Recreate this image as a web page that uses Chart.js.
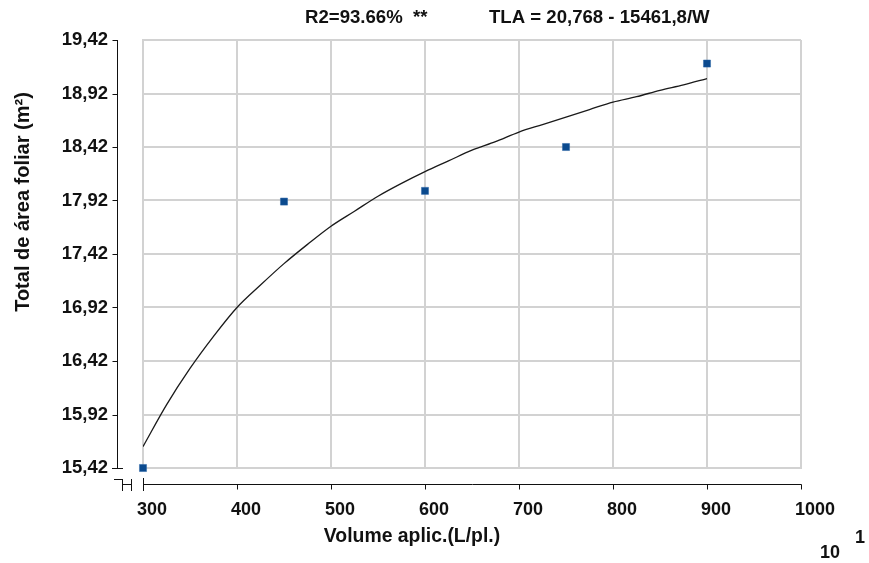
<!DOCTYPE html>
<html>
<head>
<meta charset="utf-8">
<script src="https://cdn.jsdelivr.net/npm/chart.js@4"></script>
<style>
  html, body { margin: 0; padding: 0; background: #fff; }
</style>
</head>
<body>
<canvas id="myChart" width="869" height="563"></canvas>
<script>
// observed points
const volumes = [300, 450, 600, 750, 900];
const leafArea = [15.42, 17.91, 18.01, 18.42, 19.20];

// fitted curve
const curveX = [300, 325, 350, 375, 400, 425, 450, 475, 500, 525, 550, 575, 600,
                625, 650, 675, 700, 725, 750, 775, 800, 825, 850, 875, 900];
const curveY = [15.62, 16.01, 16.35, 16.65, 16.92, 17.13, 17.33, 17.51, 17.68, 17.82, 17.96, 18.08, 18.19,
                18.29, 18.39, 18.47, 18.56, 18.63, 18.70, 18.77, 18.84, 18.89, 18.95, 19.00, 19.06];

const xTicks = [300, 400, 500, 600, 700, 800, 900, 1000];
const yTicks = [15.42, 15.92, 16.42, 16.92, 17.42, 17.92, 18.42, 18.92, 19.42];

const r2Text = 'R2=93.66%  **';
const eqText = 'TLA = 20,768 - 15461,8/W';
const xTitle = 'Volume aplic.(L/pl.)';
const yTitle = 'Total de área foliar (m²)';

const FONT = '"Liberation Sans", Arial, sans-serif';
const gridColor = '#d2d2d2';
const inkColor = '#111';

const myChart = document.getElementById('myChart');

// axes drawn offset from the plot box, plus the texts
const decorations = {
  id: 'decorations',
  afterDraw(chart) {
    const ctx = chart.ctx;
    const xs = chart.scales.x, ys = chart.scales.y;
    const ax = 117.5, ay = 484.5;
    const top = ys.getPixelForValue(yTicks[yTicks.length - 1]);
    const bot = ys.getPixelForValue(yTicks[0]);
    const left = xs.getPixelForValue(xTicks[0]);
    const right = xs.getPixelForValue(xTicks[xTicks.length - 1]);

    ctx.save();
    ctx.strokeStyle = inkColor;
    ctx.lineWidth = 1;
    const seg = (x1, y1, x2, y2) => { ctx.beginPath(); ctx.moveTo(x1, y1); ctx.lineTo(x2, y2); ctx.stroke(); };

    // y axis
    seg(ax, top, ax, bot);
    yTicks.forEach(v => {
      const py = Math.round(ys.getPixelForValue(v)) + 0.5;
      seg(ax - 5, py, ax, py);
    });
    seg(112, Math.round(bot) + 0.5, 123, Math.round(bot) + 0.5);

    // break marks
    seg(114, 479.5, 122.5, 479.5);
    seg(122.5, 479, 122.5, 491);
    seg(122.5, ay, 131.5, ay);
    seg(131.5, 479, 131.5, 491);

    // x axis
    const lx = Math.round(left) + 0.5;
    seg(lx, 478, lx, 491);
    seg(lx, ay, Math.round(right) + 0.5, ay);
    xTicks.forEach(v => {
      const px = Math.round(xs.getPixelForValue(v)) + 0.5;
      seg(px, ay, px, ay + 5);
    });

    // texts
    ctx.fillStyle = inkColor;
    ctx.font = 'bold 18.6px ' + FONT;
    ctx.textBaseline = 'middle';
    ctx.textAlign = 'left';
    ctx.fillText(r2Text, 305, 18);
    ctx.fillText(eqText, 489, 18);

    ctx.font = 'bold 19.4px ' + FONT;
    ctx.textAlign = 'center';
    ctx.fillText(xTitle, 412, 537);

    ctx.font = 'bold 18px ' + FONT;
    ctx.textAlign = 'left';
    ctx.fillText('10', 820, 553);
    ctx.fillText('1', 855, 538);

    ctx.font = 'bold 20px ' + FONT;
    ctx.translate(23, 202);
    ctx.rotate(-Math.PI / 2);
    ctx.textAlign = 'center';
    ctx.fillText(yTitle, 0, 0);
    ctx.restore();
  }
};

const data = {
  datasets: [{
    label: 'curve',
    data: curveX.map((x, i) => ({x: x, y: curveY[i]})),
    showLine: true,
    borderColor: '#1a1a1a',
    borderWidth: 1.3,
    pointRadius: 0,
    cubicInterpolationMode: 'monotone',
    fill: false
  }, {
    label: 'observed',
    data: volumes.map((x, i) => ({x: x, y: leafArea[i]})),
    showLine: false,
    pointStyle: 'rect',
    pointRadius: 5,
    pointBackgroundColor: '#0b4a8e',
    pointBorderColor: '#2a64a6',
    pointBorderWidth: 0.5,
    clip: false
  }]
};

const config = {
  type: 'scatter',
  data: data,
  options: {
    responsive: false,
    animation: false,
    devicePixelRatio: 1,
    layout: { padding: { left: 0, top: 40, right: 68, bottom: 0 } },
    plugins: { legend: { display: false }, tooltip: { enabled: false }, title: { display: false } },
    scales: {
      x: {
        type: 'linear',
        min: 300,
        max: 1000,
        afterBuildTicks: s => { s.ticks = xTicks.map(v => ({value: v})); },
        afterFit: s => { s.height = 95; s.paddingLeft = 0; s.paddingRight = 0; },
        ticks: {
          color: inkColor,
          font: { family: FONT, size: 18, weight: 'bold' },
          align: 'start',
          labelOffset: -6,
          padding: 31,
          maxRotation: 0,
          autoSkip: false,
          callback: v => String(v)
        },
        grid: { color: gridColor, lineWidth: 2, drawTicks: false },
        border: { display: true, color: gridColor, width: 2 }
      },
      y: {
        type: 'linear',
        min: 15.42,
        max: 19.42,
        afterBuildTicks: s => { s.ticks = yTicks.map(v => ({value: v})); },
        afterFit: s => { s.width = 143; s.paddingTop = 0; s.paddingBottom = 0; },
        ticks: {
          color: inkColor,
          font: { family: FONT, size: 18.5, weight: 'bold' },
          padding: 35,
          autoSkip: false,
          callback: v => v.toFixed(2).replace('.', ',')
        },
        grid: { color: gridColor, lineWidth: 2, drawTicks: false },
        border: { display: true, color: gridColor, width: 2 }
      }
    }
  },
  plugins: [decorations]
};

const chart = new Chart(myChart, config);
</script>
</body>
</html>
